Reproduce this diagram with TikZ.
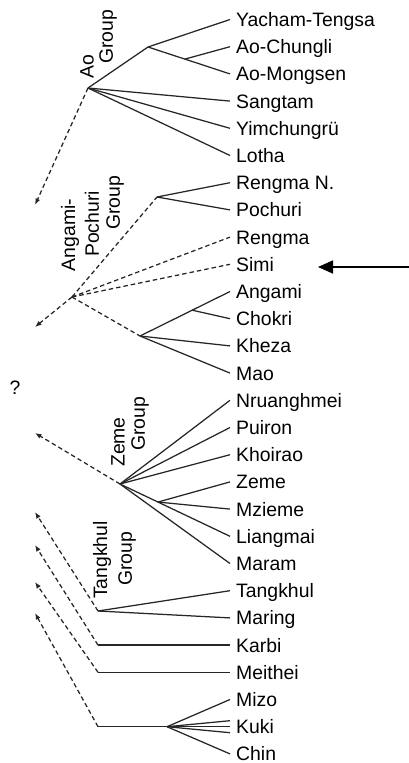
\documentclass[tikz,border=0pt]{standalone}
\usepackage{fontspec}
\setmainfont{Liberation Sans}
\usetikzlibrary{arrows.meta,calc}
\begin{document}
\begin{tikzpicture}[x=1pt,y=-1pt,
  leaf/.style={anchor=west, inner xsep=6pt, inner ysep=0pt, text height=13.9pt, text depth=0pt, font=\fontsize{19.4}{22}\selectfont},
  grp/.style={rotate=90, inner sep=0pt, font=\fontsize{19.4}{22}\selectfont},
  br/.style={line width=1.25pt, draw=black!85},
  dsh/.style={br, dash pattern=on 4.5pt off 3pt},
  darr/.style={dsh, -{Latex[length=6.5pt,width=5pt]}},
]
\useasboundingbox (0,0) rectangle (409,763);
% leaves
\node[leaf] (yt) at (230,19.5) {Yacham-Tengsa};
\node[leaf] (ac) at (230,46.7) {Ao-Chungli};
\node[leaf] (am) at (230,73.9) {Ao-Mongsen};
\node[leaf] (sg) at (230,101.1) {Sangtam};
\node[leaf] (yi) at (230,128.3) {Yimchungrü};
\node[leaf] (lo) at (230,155.5) {Lotha};
\node[leaf] (rn) at (230,182.7) {Rengma N.};
\node[leaf] (po) at (230,209.9) {Pochuri};
\node[leaf] (re) at (230,237.1) {Rengma};
\node[leaf] (si) at (230,264.3) {Simi};
\node[leaf] (an) at (230,291.5) {Angami};
\node[leaf] (ch) at (230,318.7) {Chokri};
\node[leaf] (kh) at (230,345.9) {Kheza};
\node[leaf] (ma) at (230,373.1) {Mao};
\node[leaf] (nr) at (230,400.3) {Nruanghmei};
\node[leaf] (pu) at (230,427.5) {Puiron};
\node[leaf] (ko) at (230,454.7) {Khoirao};
\node[leaf] (ze) at (230,481.9) {Zeme};
\node[leaf] (mz) at (230,509.1) {Mzieme};
\node[leaf] (li) at (230,536.3) {Liangmai};
\node[leaf] (mr) at (230,563.5) {Maram};
\node[leaf] (tk) at (230,590.7) {Tangkhul};
\node[leaf] (mg) at (230,617.9) {Maring};
\node[leaf] (ka) at (230,645.1) {Karbi};
\node[leaf] (me) at (230,672.3) {Meithei};
\node[leaf] (mi) at (230,699.5) {Mizo};
\node[leaf] (ku) at (230,726.7) {Kuki};
\node[leaf] (ci) at (230,753.9) {Chin};
% group labels
\node[grp] (aoL1) at (87,67) {Ao};
\node[grp] (aoL2) at (108,37) {Group};
\node[grp] (apL1) at (70,235) {Angami-};
\node[grp] (apL2) at (92,224) {Pochuri};
\node[grp] (apL3) at (115,203) {Group};
\node[grp] (zmL1) at (118,442) {Zeme};
\node[grp] (zmL2) at (140,424) {Group};
\node[grp] (tkL1) at (102,560) {Tangkhul};
\node[grp] (tkL2) at (127,559) {Group};
\node[inner sep=0pt, font=\fontsize{19.4}{22}\selectfont] (qm) at (15,388) {?};
% internal points
\coordinate (ao) at (88,88);
\coordinate (aoA) at (148,47);
\coordinate (aoB) at ($(aoA)!0.45!(am.west)$);
\coordinate (ap) at (72,297);
\coordinate (apA) at (157,197);
\coordinate (apB) at (140,336);
\coordinate (apC) at ($(apB)!0.58!(an.west)$);
\coordinate (zm) at (120,484);
\coordinate (zA) at ($(zm)!0.345!(li.west)$);
\coordinate (tkn) at (98,611);
\coordinate (kan) at (98,645.1);
\coordinate (men) at (98,672.3);
\coordinate (mzn) at (98,726.7);
\coordinate (mzj) at (167,726.7);
% arrow tips
\coordinate (aoT) at (35,205);
\coordinate (apT) at (35,327);
\coordinate (zmT) at (35,433);
\coordinate (tkT) at (35,512);
\coordinate (kaT) at (35,545);
\coordinate (meT) at (35,582);
\coordinate (mzT) at (35,613);
% Ao group
\draw[br] (ao) -- (aoA) -- (yt.west);
\draw[br] (aoA) -- (am.west);
\draw[br] (aoB) -- (ac.west);
\draw[br] (ao) -- (sg.west);
\draw[br] (ao) -- (yi.west);
\draw[br] (ao) -- (lo.west);
\draw[darr] (ao) -- (aoT);
% Angami-Pochuri group
\draw[dsh] (ap) -- (apA);
\draw[br] (apA) -- (rn.west);
\draw[br] (apA) -- (po.west);
\draw[dsh] (ap) -- (re.west);
\draw[dsh] (ap) -- (si.west);
\draw[dsh] (ap) -- (apB);
\draw[br] (apB) -- (an.west);
\draw[br] (apC) -- (ch.west);
\draw[br] (apB) -- (kh.west);
\draw[br] (apB) -- (ma.west);
\draw[darr] (ap) -- (apT);
% Zeme group
\draw[br] (zm) -- (nr.west);
\draw[br] (zm) -- (pu.west);
\draw[br] (zm) -- (ko.west);
\draw[br] (zm) -- (li.west);
\draw[br] (zA) -- (ze.west);
\draw[br] (zA) -- (mz.west);
\draw[br] (zm) -- (mr.west);
\draw[darr] (zm) -- (zmT);
% Tangkhul group
\draw[br] (tkn) -- (tk.west);
\draw[br] (tkn) -- (mg.west);
\draw[darr] (tkn) -- (tkT);
% Karbi, Meithei
\draw[br] (kan) -- (ka.west);
\draw[darr] (kan) -- (kaT);
\draw[br] (men) -- (me.west);
\draw[darr] (men) -- (meT);
% Mizo-Kuki-Chin
\draw[br] (mzn) -- (mzj);
\draw[br] (mzj) -- (mi.west);
\draw[br] (mzj) -- ($(ku.west)+(0,-6)$);
\draw[br] (mzj) -- (ku.west);
\draw[br] (mzj) -- ($(ku.west)+(0,6)$);
\draw[br] (mzj) -- (ci.west);
\draw[darr] (mzn) -- (mzT);
% pointer arrow
\coordinate (bigS) at (409,267);
\coordinate (bigT) at (318,267);
\draw[line width=1.6pt, -{Triangle[length=15pt,width=13pt]}] (bigS) -- (bigT);
\end{tikzpicture}
\end{document}
